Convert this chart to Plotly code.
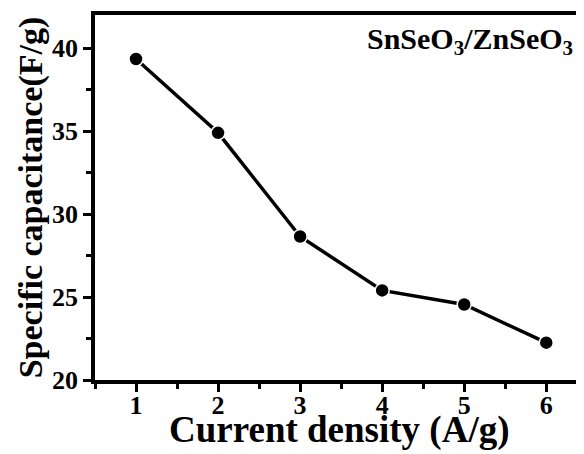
import plotly.graph_objects as go

current_density = [1, 2, 3, 4, 5, 6]
capacitance = [39.35, 34.9, 28.65, 25.4, 24.55, 22.25]
x_ticks = [1, 2, 3, 4, 5, 6]
y_ticks = [20, 25, 30, 35, 40]

FONT = "Liberation Serif"

fig = go.Figure()
fig.add_trace(go.Scatter(
    x=current_density, y=capacitance, mode="lines+markers",
    line=dict(color="black", width=3.5),
    marker=dict(color="black", size=14, line=dict(color="white", width=1.5)),
    showlegend=False,
))

# the page body has an 8px margin, so the figure is 8px smaller than the window
fig.update_layout(
    width=576, height=446,
    margin=dict(l=87, r=0, t=7, b=74, autoexpand=False),
    paper_bgcolor="white", plot_bgcolor="white",
    font=dict(family=FONT, color="black"),
    xaxis=dict(
        range=[0.5, 6.46], tickvals=x_ticks, ticktext=["<b>%d</b>" % v for v in x_ticks],
        showgrid=False, zeroline=False, automargin=False,
        showline=True, linecolor="black", linewidth=3.5, mirror=True,
        ticks="outside", ticklen=8, tickwidth=3, tickcolor="black",
        minor=dict(dtick=0.5, tick0=0.5, ticks="outside", ticklen=5, tickwidth=3, tickcolor="black"),
        tickfont=dict(family=FONT, size=26), ticklabelstandoff=-9,
    ),
    yaxis=dict(
        range=[20, 42], tickvals=y_ticks, ticktext=["<b>%d</b>" % v for v in y_ticks],
        showgrid=False, zeroline=False, automargin=False,
        showline=True, linecolor="black", linewidth=3.5, mirror=False,
        ticks="outside", ticklen=8, tickwidth=3, tickcolor="black",
        minor=dict(dtick=2.5, tick0=20, ticks="outside", ticklen=5, tickwidth=3, tickcolor="black"),
        tickfont=dict(family=FONT, size=26),
        title=dict(text="<b>Specific capacitance(F/g)</b>", font=dict(family=FONT, size=34), standoff=0),
    ),
    annotations=[
        dict(
            text="<b>SnSeO<sub>3</sub>/ZnSeO<sub>3</sub></b>",
            xref="paper", yref="paper", x=0.982, y=0.985, xanchor="right", yanchor="top",
            showarrow=False, font=dict(family=FONT, size=30, color="black"),
        ),
        dict(
            text="<b>Current density (A/g)</b>",
            xref="paper", yref="paper", x=0.5, y=-0.137, xanchor="center", yanchor="middle",
            showarrow=False, font=dict(family=FONT, size=37, color="black"),
        ),
    ],
)

fig.write_html("out.html")
